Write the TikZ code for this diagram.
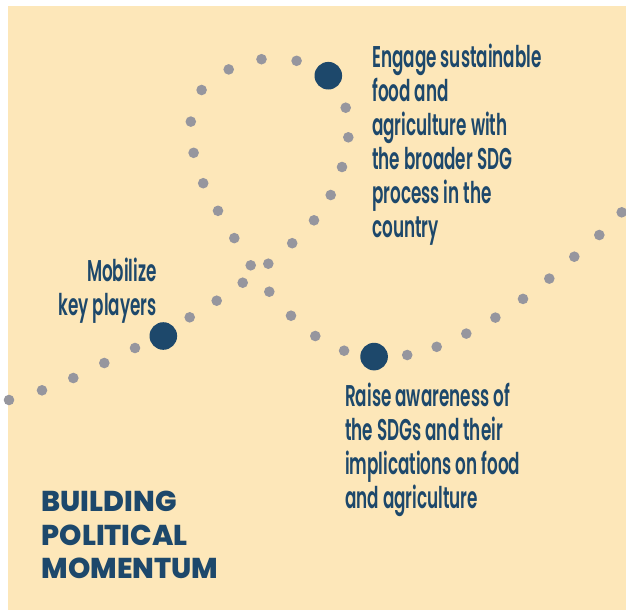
\documentclass[tikz,border=0pt]{standalone}
\usepackage{fontspec}
\newfontfamily\bodyfont[FakeStretch=0.56]{Poppins SemiBold}
\newfontfamily\titlefont[FakeStretch=0.99]{Poppins ExtraBold}
\definecolor{bg}{RGB}{253,231,185}
\definecolor{navy}{RGB}{29,72,107}
\definecolor{dotgray}{RGB}{150,150,158}
\tikzset{
  smalldot/.style={circle,fill=dotgray,inner sep=0pt,minimum size=10.6pt},
  bigdot/.style={circle,fill=navy,inner sep=0pt,minimum size=27.6pt},
  bodytext/.style={text=navy,inner sep=0pt,font=\bodyfont\fontsize{30}{34}\selectfont},
  titletext/.style={text=navy,inner sep=0pt,align=left,font=\titlefont\fontsize{28.7}{33.5}\selectfont}
}
\begin{document}
\begin{tikzpicture}[x=1pt,y=-1pt]
\useasboundingbox (0,0) rectangle (626,611);
\fill[bg] (8,6) rectangle (626,610);
% gray dots along the path
\foreach \x/\y [count=\i] in {
  9/400, 42/390.3, 73.3/378, 104.3/363, 135/348,
  189.7/317.3, 216.7/300.7, 242.7/282.7, 268.3/263.7, 292.2/243.2,
  314/220.3, 330.7/195, 342/167, 348.3/137.3, 345.7/107.7,
  296.6/60.8, 261.5/59.2, 228.7/69.4, 201.6/90, 190.8/121.6,
  193.6/152.8, 203.2/183.2, 218/210.8, 234.3/238.1, 250.7/265.3,
  269.3/291.7, 291/315.7, 315.3/336, 344.1/350.7,
  407.2/355, 436.7/346.8, 466.3/333.6, 495.4/317.6, 523/298.9,
  549.3/278.6, 574.3/256.7, 599.3/235, 621.7/212.3}
  \node[smalldot] (d\i) at (\x,\y) {};
% milestone dots
\node[bigdot] (mobilize) at (163.3,336) {};
\node[bigdot] (engage) at (328.3,75.7) {};
\node[bigdot] (raise) at (374.1,356.6) {};
% labels (base anchor = baseline of the last line)
\node[bodytext,align=left,anchor=base west] (engageText) at (372,237)
  {Engage sustainable\\food and\\agriculture with\\the broader SDG\\process in the\\country};
\node[bodytext,align=left,anchor=base west] (raiseText) at (345,508)
  {Raise awareness of\\the SDGs and their\\implications on food\\and agriculture};
\node[bodytext,align=right,anchor=base east] (mobilizeText) at (157,315.5)
  {Mobilize\\key players};
\node[titletext,anchor=base west] (title) at (41.5,578.7)
  {BUILDING\\POLITICAL\\MOMENTUM};
\end{tikzpicture}
\end{document}
